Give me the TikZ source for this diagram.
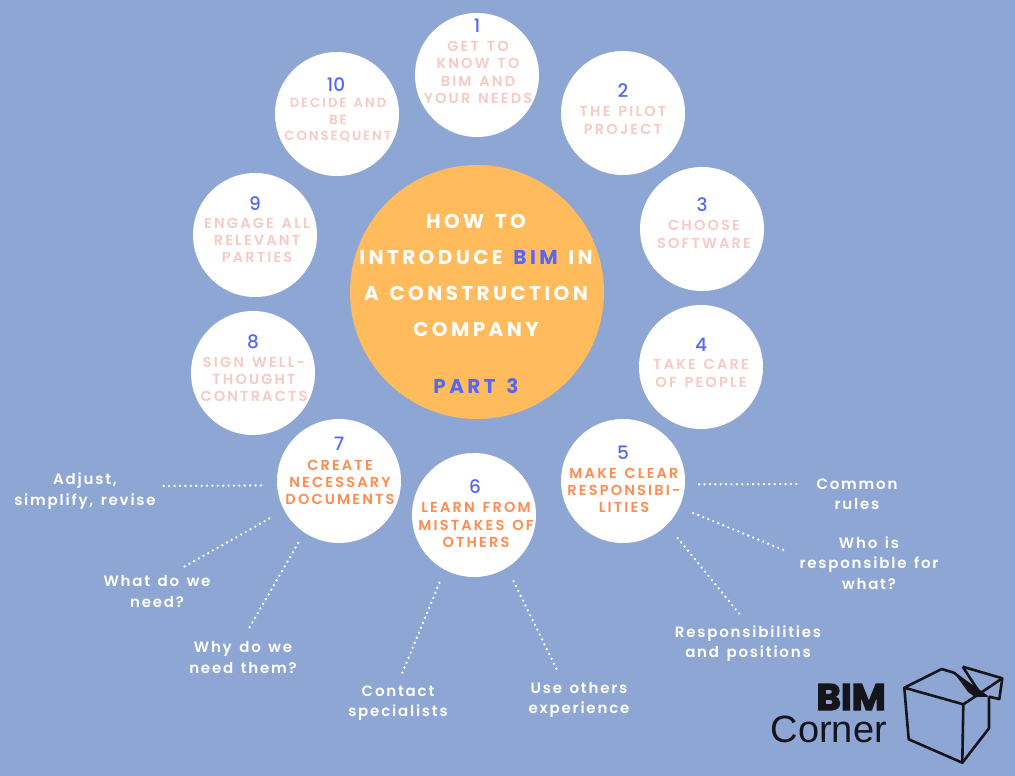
\documentclass[tikz,border=0pt]{standalone}
\usepackage{fontspec}
\setmainfont{Poppins}
\newfontfamily\NumFont{Poppins Medium}
\newfontfamily\TitleFont[LetterSpace=15,WordSpace=1.4]{Poppins SemiBold}
\newfontfamily\LabFont[LetterSpace=12,WordSpace=1.4]{Poppins SemiBold}
\newfontfamily\MainFont[LetterSpace=17,WordSpace=1.4]{Poppins}
\newfontfamily\LogoFont{Liberation Sans}
\usepackage{xcolor}
\definecolor{ColBack}{RGB}{142,166,211}
\definecolor{ColSun}{RGB}{255,187,92}
\definecolor{ColPeach}{RGB}{245,203,195}
\definecolor{ColOrange}{RGB}{255,140,80}
\definecolor{ColBlue}{RGB}{84,104,245}
\definecolor{ColInk}{RGB}{20,20,26}
\tikzstyle{NodeStep}=[circle,fill=white,inner sep=0pt,minimum size=124pt]
\tikzstyle{NodeNum}=[inner sep=0pt,text=ColBlue,font=\NumFont\fontsize{18.5}{18.5}\selectfont]
\tikzstyle{NodeTitle}=[inner sep=0pt,align=center,text=ColPeach,font=\TitleFont\fontsize{14.5}{17.2}\selectfont]
\tikzstyle{NodeDone}=[NodeTitle,text=ColOrange]
\tikzstyle{NodeNote}=[inner sep=0pt,align=center,text=white,font=\LabFont\fontsize{15}{20.3}\selectfont]
\tikzstyle{NodeMain}=[inner sep=0pt,align=center,text=white,font=\MainFont\bfseries\fontsize{20}{36}\selectfont]
\tikzstyle{EdgeDots}=[white,line width=2.6pt,line cap=round,dash pattern=on 0pt off 5.4pt]
\tikzstyle{EdgeBox}=[ColInk,line width=2.6pt,line join=round]
\begin{document}
\begin{tikzpicture}[x=1pt,y=-1pt]
        \fill[ColBack](0,0)rectangle(1015,776);
        \node[circle,fill=ColSun,inner sep=0pt,minimum size=254pt](hub)at(477,292){};
        \node[NodeStep](c1)at(477,75){};
        \node[NodeStep](c2)at(623,113){};
        \node[NodeStep](c3)at(702,229){};
        \node[NodeStep](c4)at(701,367){};
        \node[NodeStep](c5)at(623,481){};
        \node[NodeStep](c6)at(474,515){};
        \node[NodeStep](c7)at(339,481){};
        \node[NodeStep](c8)at(253,373){};
        \node[NodeStep](c9)at(255,235){};
        \node[NodeStep](c10)at(337,114){};
        % numbers
        \node[NodeNum](n1)at(477,26){1};
        \node[NodeNum](n2)at(623,91){2};
        \node[NodeNum](n3)at(702,205){3};
        \node[NodeNum](n4)at(701,345){4};
        \node[NodeNum](n5)at(623,453){5};
        \node[NodeNum](n6)at(475,487){6};
        \node[NodeNum](n7)at(339,444){7};
        \node[NodeNum](n8)at(253,342){8};
        \node[NodeNum](n9)at(255,204){9};
        \node[NodeNum](n10)at(336,85){10};
        % titles
        \node[NodeTitle](t1)at(478,72.5){GET TO\\KNOW TO\\BIM AND\\YOUR NEEDS};
        \node[NodeTitle](t2)at(623,120.5){THE PILOT\\PROJECT};
        \node[NodeTitle](t3)at(704,234.5){CHOOSE\\SOFTWARE};
        \node[NodeTitle](t4)at(701,373.5){TAKE CARE\\OF PEOPLE};
        \node[NodeDone](t5)at(624,490.5){MAKE CLEAR\\RESPONSIBI-\\LITIES};
        \node[NodeDone](t6)at(476,525){LEARN FROM\\MISTAKES OF\\OTHERS};
        \node[NodeDone](t7)at(340,482.5){CREATE\\NECESSARY\\DOCUMENTS};
        \node[NodeTitle](t8)at(254,379.5){SIGN WELL-\\THOUGHT\\CONTRACTS};
        \node[NodeTitle](t9)at(257,240.5){ENGAGE ALL\\RELEVANT\\PARTIES};
        \node[NodeTitle,font=\TitleFont\fontsize{13.2}{16.5}\selectfont](t10)at(338,120.5){DECIDE AND\\BE\\CONSEQUENT};
        \node[NodeMain](title)at(476,275){HOW TO\\INTRODUCE \textcolor{ColBlue}{BIM} IN\\A CONSTRUCTION\\COMPANY};
        \node[NodeMain,text=ColBlue](part)at(476,386.5){PART 3};
        % notes
        \node[NodeNote](adjust)at(85,491){Adjust,\\simplify, revise};
        \node[NodeNote](what)at(157,591.5){What do we\\need?};
        \node[NodeNote](why)at(243,657.5){Why do we\\need them?};
        \node[NodeNote](contact)at(398,703.5){Contact\\specialists};
        \node[NodeNote](others)at(579,700){Use others\\experience};
        \node[NodeNote](positions)at(748,643.5){Responsibilities\\and positions};
        \node[NodeNote](who)at(869,563){Who is\\responsible for\\what?};
        \node[NodeNote](rules)at(857,494){Common\\rules};
        % free ends of the dotted lines
        \coordinate(e1)at(161,486);
        \coordinate(e2)at(182,568);
        \coordinate(e3)at(248,630);
        \coordinate(e4)at(401,676);
        \coordinate(e5)at(558,672);
        \coordinate(e6)at(742,617);
        \coordinate(e7)at(786,551);
        \coordinate(e8)at(800,484);
        \draw[EdgeDots,shorten <=16pt](c7.184.6)--(e1);
        \draw[EdgeDots,shorten <=17pt](c7.208.8)--(e2);
        \draw[EdgeDots,shorten <=12pt](c7.236.5)--(e3);
        \draw[EdgeDots,shorten <=14pt](c6.242.8)--(e4);
        \draw[EdgeDots,shorten <=15pt](c6.-58.2)--(e5);
        \draw[EdgeDots,shorten <=17pt](c5.-45.5)--(e6);
        \draw[EdgeDots,shorten <=15pt](c5.-25.9)--(e7);
        \draw[EdgeDots,shorten <=14pt](c5.-3)--(e8);
        % logo
        \node[inner sep=0pt,anchor=base east,text=ColInk,font=\bfseries\fontsize{37}{37}\selectfont](bim)at(886,710){\special{pdf:literal direct 2 Tr 1.3 w}BIM\special{pdf:literal direct 0 Tr}};
        \node[inner sep=0pt,anchor=base east,text=ColInk,font=\LogoFont\fontsize{38}{38}\selectfont](corner)at(887,742){Corner};
        \draw[EdgeBox](904.3,687.7)--(941.7,669)--(954,672.7)--(980,693.3)--(963.3,704.3)--cycle;
        \draw[EdgeBox](904.3,687.7)--(908.7,739.3)--(962.3,762.7)--(963.3,704.3);
        \draw[EdgeBox](962.3,762.7)--(989,728.3)--(989,696.7);
        \draw[EdgeBox](962.7,666.7)--(1002.3,678.3)--(999.3,699)--(989,696.7);
        \draw[EdgeBox](962.7,666.7)--(980,693.3)--(1002.3,678.3);
        \fill[ColInk](954,672.7)--(962.7,678)--(980,690)--(989,696.7)--(975,697)--(968,692)--cycle;
    \end{tikzpicture}
\end{document}
